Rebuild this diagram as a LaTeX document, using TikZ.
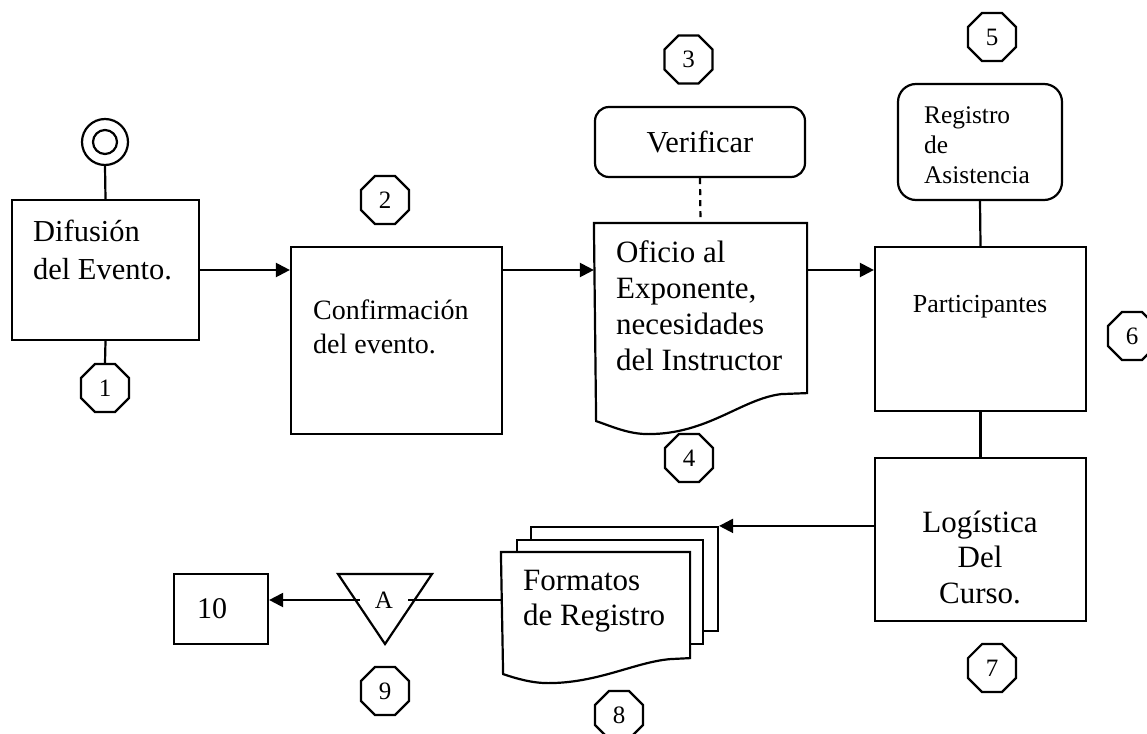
\documentclass[tikz,border=0pt]{standalone}
\usepackage{fontspec}
\setmainfont{Liberation Serif}
\usetikzlibrary{shapes.geometric, arrows.meta}

\newcommand{\tam}[2]{\fontsize{#1}{#2}\selectfont}

\tikzset{
  caja/.style={draw, rectangle, inner sep=0pt},
  redonda/.style={draw, rectangle, rounded corners=14pt, inner sep=0pt},
  octa/.style={draw, regular polygon, regular polygon sides=8, minimum size=52pt, inner sep=0pt, font=\tam{25}{25}},
  flecha/.style={-{Triangle[length=14pt,width=14pt]}},
  texto/.style={inner sep=0pt, align=left, anchor=base west},
}

\begin{document}
\begin{tikzpicture}[x=1pt, y=-1pt, line width=2.2pt]
  \useasboundingbox (0,0) rectangle (1147,733);

  % inicio y primer bloque
  \node[draw, circle, minimum size=46pt, inner sep=0pt] (inicio) at (105,142) {};
  \draw (inicio.center) circle (12);
  \node[caja, minimum width=187pt, minimum height=140pt] (difusion) at (105.5,270) {};
  \node[texto, font=\tam{30.5}{38}] (tdifusion) at (32,279) {Difusión\\del Evento.};

  \node[caja, minimum width=211pt, minimum height=187pt] (confirma) at (396.5,340.5) {};
  \node[texto, font=\tam{28}{34}] (tconfirma) at (312,353) {Confirmación\\del evento.};

  % documento
  \node[redonda, minimum width=210pt, minimum height=70pt, font=\tam{30.5}{36}] (verificar) at (700,142) {Verificar};
  \node[minimum width=211pt, minimum height=168pt, inner sep=0pt] (oficio) at (700.5,308) {};
  \draw (oficio.north west) -- (oficio.north east) -- (oficio.south east) -- ++(-26,1)
    .. controls +(-40,5) and +(60,0) .. ++(-133,40)
    .. controls +(-20,0) and +(15,5) .. ++(-52,-13) -- cycle;
  \node[texto, font=\tam{31}{35.7}] (toficio) at (615,370) {Oficio al\\Exponente,\\necesidades\\del Instructor};

  % participantes
  \node[redonda, rounded corners=18pt, minimum width=164pt, minimum height=116pt] (registro) at (980,142) {};
  \node[texto, font=\tam{25.4}{30}] (tregistro) at (923,183) {Registro\\de\\Asistencia};
  \node[caja, minimum width=211pt, minimum height=164pt] (particip) at (980.5,329) {};
  \node[anchor=base, inner sep=0pt, font=\tam{26}{30}] (tparticip) at (980,312) {Participantes};
  \node[caja, minimum width=211pt, minimum height=163pt] (logistica) at (980.5,539.5) {};
  \node[anchor=base, inner sep=0pt, align=center, font=\tam{31}{35.5}] (tlogistica) at (980,603) {Logística\\Del\\Curso.};

  % formatos
  \node[caja, fill=white, minimum width=187pt, minimum height=104pt] (hoja3) at (624.5,579) {};
  \node[caja, fill=white, minimum width=186pt, minimum height=104pt] (hoja2) at (610,592) {};
  \node[minimum width=187pt, minimum height=104pt, inner sep=0pt] (hoja1) at (595.5,605) {};
  \draw[fill=white] (hoja1.north west) -- (hoja1.north east) -- (hoja1.south east) -- ++(-20,1)
    .. controls +(-35,3) and +(50,0) .. ++(-122,24)
    .. controls +(-17,0) and +(12,4) .. ++(-45,-9) -- cycle;
  \node[texto, font=\tam{31}{35}] (tformatos) at (522,625) {Formatos\\de Registro};

  % conector y fin
  \draw (338,574) -- (432,574) -- (385,644) -- cycle;
  \node[inner xsep=14pt, inner ysep=0pt, font=\tam{25}{25}] (marcaA) at (384,600) {A};
  \node[caja, inner xsep=23pt, text width=48pt, align=left, minimum height=70pt, font=\tam{30}{30}] (diez) at (221,609) {10};

  \foreach \n/\x/\y in {1/105/388, 2/385/200, 3/688.5/59.5, 4/689/458, 5/992/37,
                        6/1132/336, 7/992/668, 8/619/715, 9/385/691}
    \node[octa] (oct\n) at (\x,\y) {\n};

  % conexiones
  \draw (inicio.south) -- (difusion.north);
  \draw (difusion.south) -- (oct1.north);
  \draw[flecha] (difusion.east) -- (difusion.east -| confirma.west);
  \draw[flecha] (confirma.east |- difusion.east) -- (difusion.east -| oficio.west);
  \draw[flecha] (oficio.east |- difusion.east) -- (difusion.east -| particip.west);
  \draw[dash pattern=on 6pt off 5pt] (verificar.south) -- (oficio.north);
  \draw (registro.south) -- (particip.north);
  \draw (particip.south) -- (logistica.north);
  \draw[flecha] (logistica.west |- hoja3.north east) -- (hoja3.north east);
  \draw (hoja1.west |- marcaA) -- (marcaA);
  \draw[flecha] (marcaA) -- (marcaA -| diez.east);
\end{tikzpicture}
\end{document}
